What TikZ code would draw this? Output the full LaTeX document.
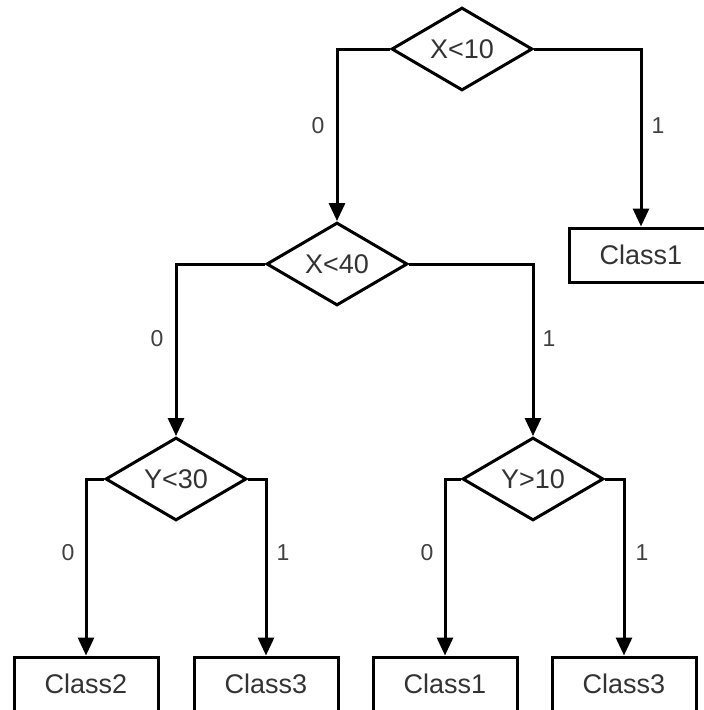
\documentclass[tikz,border=0pt]{standalone}
\usepackage{fontspec}
\setmainfont{Liberation Sans}
\usetikzlibrary{shapes.geometric,arrows.meta}
\begin{document}
\begin{tikzpicture}[x=1pt,y=-1pt,
  test/.style={draw, line width=3pt, shape=diamond, inner sep=0pt,
    minimum width=141pt, minimum height=72pt, font=\fontsize{27}{30}\selectfont,
    text=black!80},
  leaf/.style={draw, line width=3pt, rectangle, inner sep=0pt,
    minimum width=144pt, minimum height=54pt, font=\fontsize{27}{30}\selectfont,
    text=black!80},
  branch/.style={line width=3pt, -{Triangle[width=16pt,length=18pt]}},
  edgelabel/.style={font=\fontsize{23}{26}\selectfont, text=black!75, inner sep=0pt}]
  \useasboundingbox (0,0) rectangle (704,710);

  % decision nodes
  \node[test] (d1) at (462,49)  {X<10};
  \node[test] (d2) at (337,264) {X<40};
  \node[test] (d3) at (176,479) {Y<30};
  \node[test] (d4) at (533,479) {Y>10};

  % leaves
  \node[leaf] (c1a) at (641,255) {Class1};
  \node[leaf] (c2)  at (86,684)  {Class2};
  \node[leaf] (c3a) at (266,684) {Class3};
  \node[leaf] (c1b) at (445,684) {Class1};
  \node[leaf] (c3b) at (624,684) {Class3};

  % branches
  \draw[branch] (d1.west) -| (d2.north);
  \draw[branch] (d1.east) -| (c1a.north);
  \draw[branch] (d2.west) -| (d3.north);
  \draw[branch] (d2.east) -| (d4.north);
  \draw[branch] (d3.west) -| (c2.north);
  \draw[branch] (d3.east) -| (c3a.north);
  \draw[branch] (d4.west) -| (c1b.north);
  \draw[branch] (d4.east) -| (c3b.north);

  % branch labels
  \node[edgelabel] (l10) at (318,126) {0};
  \node[edgelabel] (l11) at (658,126) {1};
  \node[edgelabel] (l20) at (157,339) {0};
  \node[edgelabel] (l21) at (549,339) {1};
  \node[edgelabel] (l30) at (68,553)  {0};
  \node[edgelabel] (l31) at (283,553) {1};
  \node[edgelabel] (l40) at (427,553) {0};
  \node[edgelabel] (l41) at (642,553) {1};
\end{tikzpicture}
\end{document}
